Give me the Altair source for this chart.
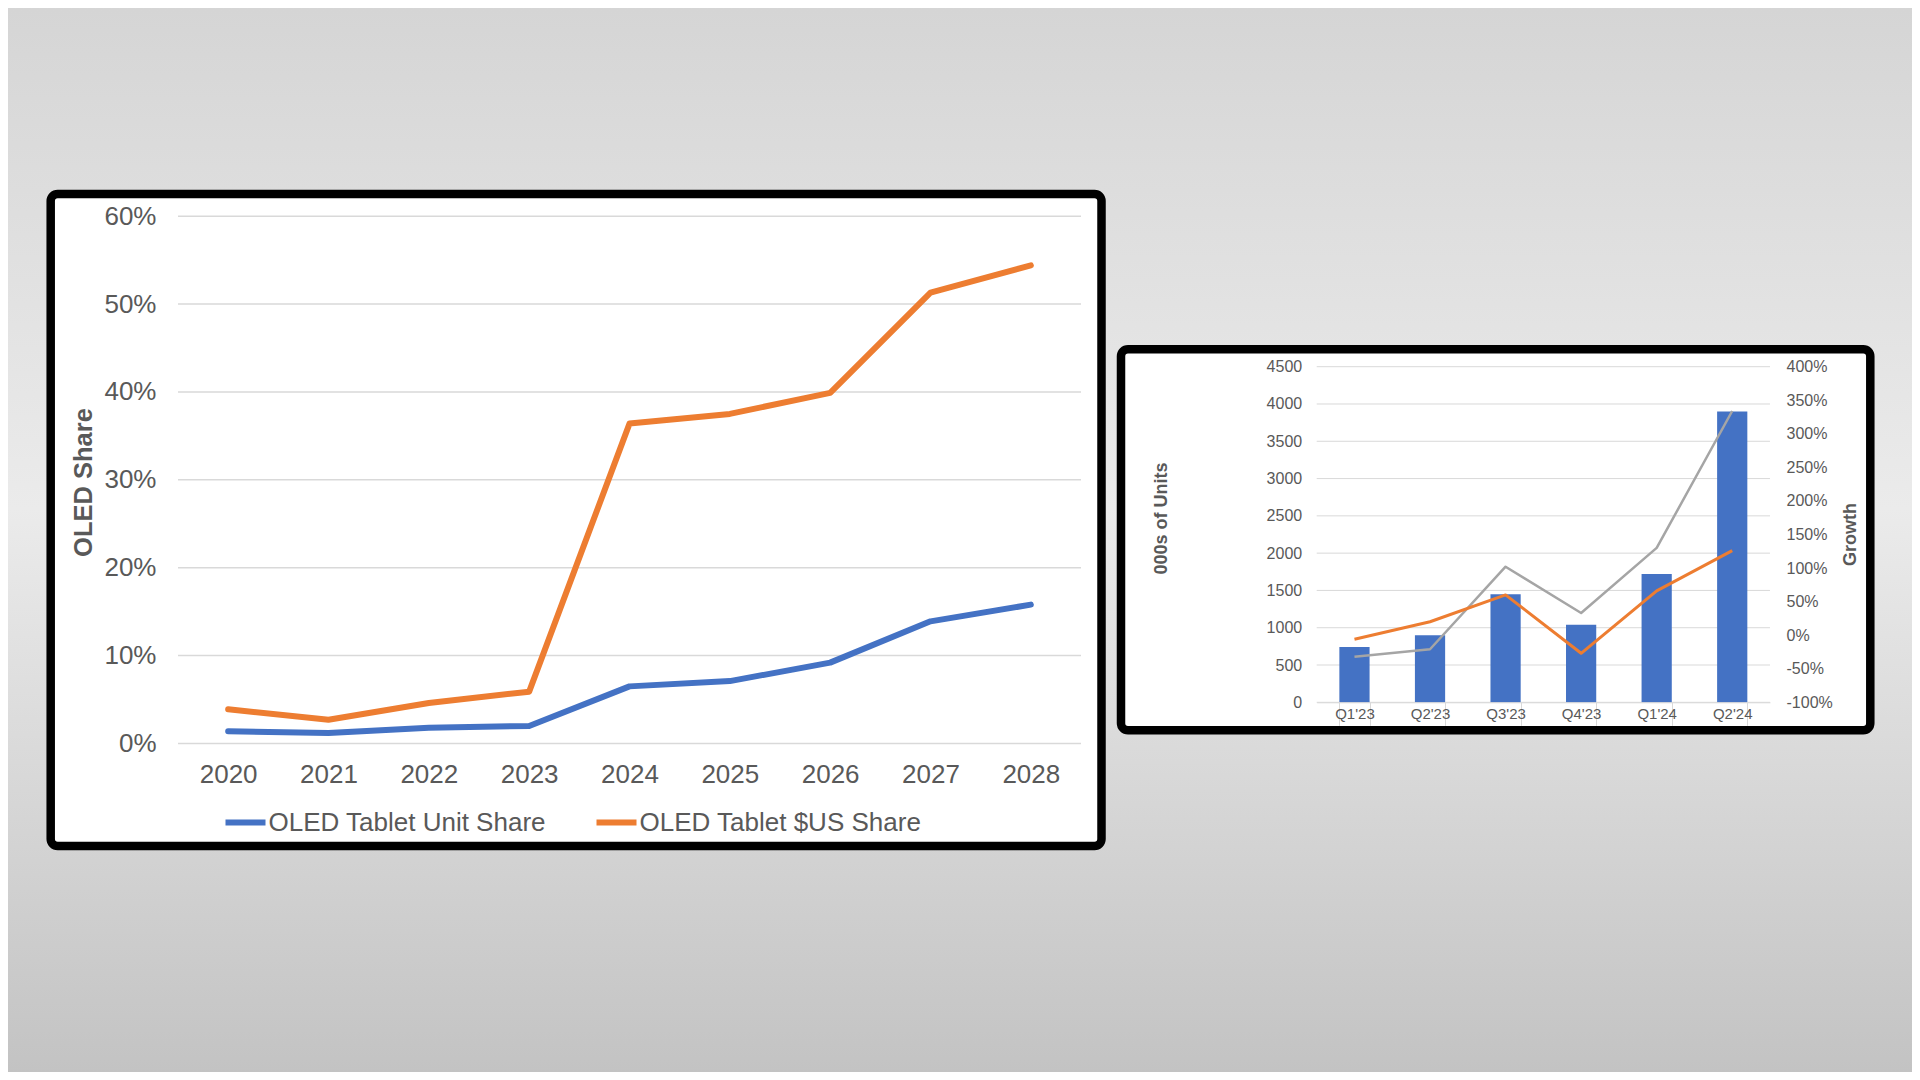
import altair as alt
import pandas as pd

# ---------------- data ----------------
years = ["2020", "2021", "2022", "2023", "2024", "2025", "2026", "2027", "2028"]
unit_share = [0.014, 0.012, 0.018, 0.020, 0.065, 0.071, 0.092, 0.139, 0.158]
usd_share = [0.039, 0.027, 0.046, 0.059, 0.364, 0.375, 0.399, 0.513, 0.544]
left_series = ["OLED Tablet Unit Share", "OLED Tablet $US Share"]
share_ticks = [0, 0.1, 0.2, 0.3, 0.4, 0.5, 0.6]

quarters = ["Q1'23", "Q2'23", "Q3'23", "Q4'23", "Q1'24", "Q2'24"]
units = [740, 900, 1450, 1040, 1720, 3900]
qoq_growth = [-0.06, 0.20, 0.60, -0.27, 0.66, 1.26]
yoy_growth = [-0.32, -0.21, 1.02, 0.33, 1.30, 3.34]
right_series = ["Y/Y Growth", "Q/Q Growth"]
unit_ticks = [0, 500, 1000, 1500, 2000, 2500, 3000, 3500, 4000, 4500]
growth_ticks = [-1, -0.5, 0, 0.5, 1, 1.5, 2, 2.5, 3, 3.5, 4]

BLUE = "#4472C4"
ORANGE = "#ED7D31"
GRAY = "#A5A5A5"
TEXT = "#595959"
GRID = "#D9D9D9"
W, H = 1904, 1064

left_df = pd.DataFrame({
    "year": years * 2,
    "idx": list(range(len(years))) * 2,
    "share": unit_share + usd_share,
    "series": [left_series[0]] * len(years) + [left_series[1]] * len(years),
})
bars_df = pd.DataFrame({"quarter": quarters, "units": units})
growth_df = pd.DataFrame({
    "quarter": quarters * 2,
    "idx": list(range(len(quarters))) * 2,
    "growth": yoy_growth + qoq_growth,
    "series": [right_series[0]] * len(quarters) + [right_series[1]] * len(quarters),
})
one = pd.DataFrame({"k": [0]})

# scale definitions
x_year = alt.Scale(type="point", range=[170, 1073], padding=0.5)
y_share = alt.Scale(domain=[0, 0.6], range=[735.5, 208.2], nice=False)
y_units = alt.Scale(domain=[0, 4500], range=[694.3, 358.7], nice=False)
y_growth = alt.Scale(domain=[-1, 4], range=[694.3, 358.7], nice=False)


def x_quarter():
    return alt.Scale(type="band", range=[1308.7, 1762], paddingInner=0.6, paddingOuter=0.3)


# ---------------- decoration ----------------
bg = alt.Chart(one).mark_rect(
    color=alt.Gradient(
        gradient="linear",
        stops=[
            alt.GradientStop(color="#d5d5d5", offset=0),
            alt.GradientStop(color="#ebebeb", offset=0.47),
            alt.GradientStop(color="#c3c3c3", offset=1),
        ],
        x1=0, x2=0, y1=0, y2=1,
    )
).encode(x=alt.value(0), x2=alt.value(W), y=alt.value(0), y2=alt.value(H))

frame_left = alt.Chart(one).mark_rect(
    fill="white", stroke="black", strokeWidth=8.5, cornerRadius=7
).encode(x=alt.value(42.7), x2=alt.value(1093.5), y=alt.value(186), y2=alt.value(838))

frame_right = alt.Chart(one).mark_rect(
    fill="white", stroke="black", strokeWidth=8.5, cornerRadius=7
).encode(x=alt.value(1113), x2=alt.value(1862.3), y=alt.value(341.3), y2=alt.value(722.3))

grid_left = alt.Chart(pd.DataFrame({"v": share_ticks})).mark_rule(color=GRID, strokeWidth=1.5).encode(
    y=alt.Y("v:Q", scale=y_share, axis=None),
    x=alt.value(170), x2=alt.value(1073),
)
grid_right = alt.Chart(pd.DataFrame({"v": unit_ticks})).mark_rule(color=GRID, strokeWidth=1).encode(
    y=alt.Y("v:Q", scale=y_units, axis=None),
    x=alt.value(1308.7), x2=alt.value(1762),
)

# ---------------- left chart ----------------
left = alt.Chart(left_df).mark_line(strokeWidth=6, strokeCap="round", strokeJoin="round").encode(
    x=alt.X(
        "year:O", sort=years, scale=x_year,
        axis=alt.Axis(
            orient="bottom", offset=735.5 - H, domain=False, ticks=False, tickSize=0,
            labelPadding=17.5, labelFontSize=26, labelColor=TEXT, labelAngle=0,
            grid=False, title=None, zindex=1,
        ),
    ),
    y=alt.Y(
        "share:Q", scale=y_share,
        axis=alt.Axis(
            orient="left", offset=-170, values=share_ticks, format=".0%",
            domain=False, ticks=False, tickSize=0, labelPadding=22,
            labelFontSize=26, labelColor=TEXT, grid=False, zindex=1,
            title="OLED Share", titleFontSize=25.5, titleFontWeight="bold", titleColor=TEXT,
            titleX=-94.5, titleY=474, titleAngle=270, titleAlign="center", titleBaseline="middle",
        ),
    ),
    color=alt.Color(
        "series:N",
        scale=alt.Scale(domain=left_series, range=[BLUE, ORANGE]),
        legend=alt.Legend(
            orient="none", legendX=214.5, legendY=791.5, direction="horizontal", title=None,
            symbolType="stroke", symbolSize=1600, symbolStrokeWidth=6,
            labelFontSize=26, labelColor=TEXT, labelOffset=0, labelLimit=500,
            columnPadding=38, padding=0, zindex=1,
        ),
    ),
    order=alt.Order("idx:Q"),
)

# ---------------- right chart ----------------
bars = alt.Chart(bars_df).mark_bar(color=BLUE).encode(
    x=alt.X(
        "quarter:N", sort=quarters, scale=x_quarter(),
        axis=alt.Axis(
            orient="bottom", offset=694.3 - H, domain=True, domainColor=GRID, domainWidth=1,
            ticks=True, tickBand="extent", tickSize=23, tickColor=GRID, tickWidth=1,
            labelPadding=-18.5, labelFontSize=15, labelColor=TEXT, labelAngle=0,
            grid=False, title=None, zindex=1,
        ),
    ),
    y=alt.Y(
        "units:Q", scale=y_units,
        axis=alt.Axis(
            orient="left", offset=-1308.7, values=unit_ticks, format="d",
            domain=False, ticks=False, tickSize=0, labelPadding=15,
            labelFontSize=16, labelColor=TEXT, grid=False, zindex=1,
            title="000s of Units", titleFontSize=18, titleFontWeight="bold", titleColor=TEXT,
            titleX=-155.2, titleY=510, titleAngle=270, titleAlign="center", titleBaseline="middle",
        ),
    ),
)

growth = alt.Chart(growth_df).mark_line(strokeJoin="round").encode(
    x=alt.X("quarter:N", sort=quarters, scale=x_quarter(), axis=None),
    y=alt.Y(
        "growth:Q", scale=y_growth,
        axis=alt.Axis(
            orient="right", offset=1762 - W, values=growth_ticks, format=".0%",
            labelExpr="replace(datum.label, '\u2212', '-')",
            domain=False, ticks=False, tickSize=0, labelPadding=16,
            labelFontSize=16, labelColor=TEXT, grid=False, zindex=1,
            title="Growth", titleFontSize=18, titleFontWeight="bold", titleColor=TEXT,
            titleX=80.5, titleY=526, titleAngle=270, titleAlign="center", titleBaseline="middle",
        ),
    ),
    color=alt.Color("series:N", scale=alt.Scale(domain=right_series, range=[GRAY, ORANGE]), legend=None),
    strokeWidth=alt.StrokeWidth("series:N", scale=alt.Scale(domain=right_series, range=[2.5, 3]), legend=None),
    order=alt.Order("idx:Q"),
)

chart = (
    alt.layer(bg, frame_left, frame_right, grid_left, grid_right, left, bars, growth)
    .resolve_scale(x="independent", y="independent", color="independent", strokeWidth="independent")
    .resolve_axis(x="independent", y="independent")
    .resolve_legend(color="independent", strokeWidth="independent")
    .properties(width=W, height=H, autosize=alt.AutoSizeParams(type="none"), padding=0)
    .configure(font="Liberation Sans")
    .configure_view(strokeWidth=0)
)

chart.save("out.html", embed_options={"renderer": "svg", "actions": False})
